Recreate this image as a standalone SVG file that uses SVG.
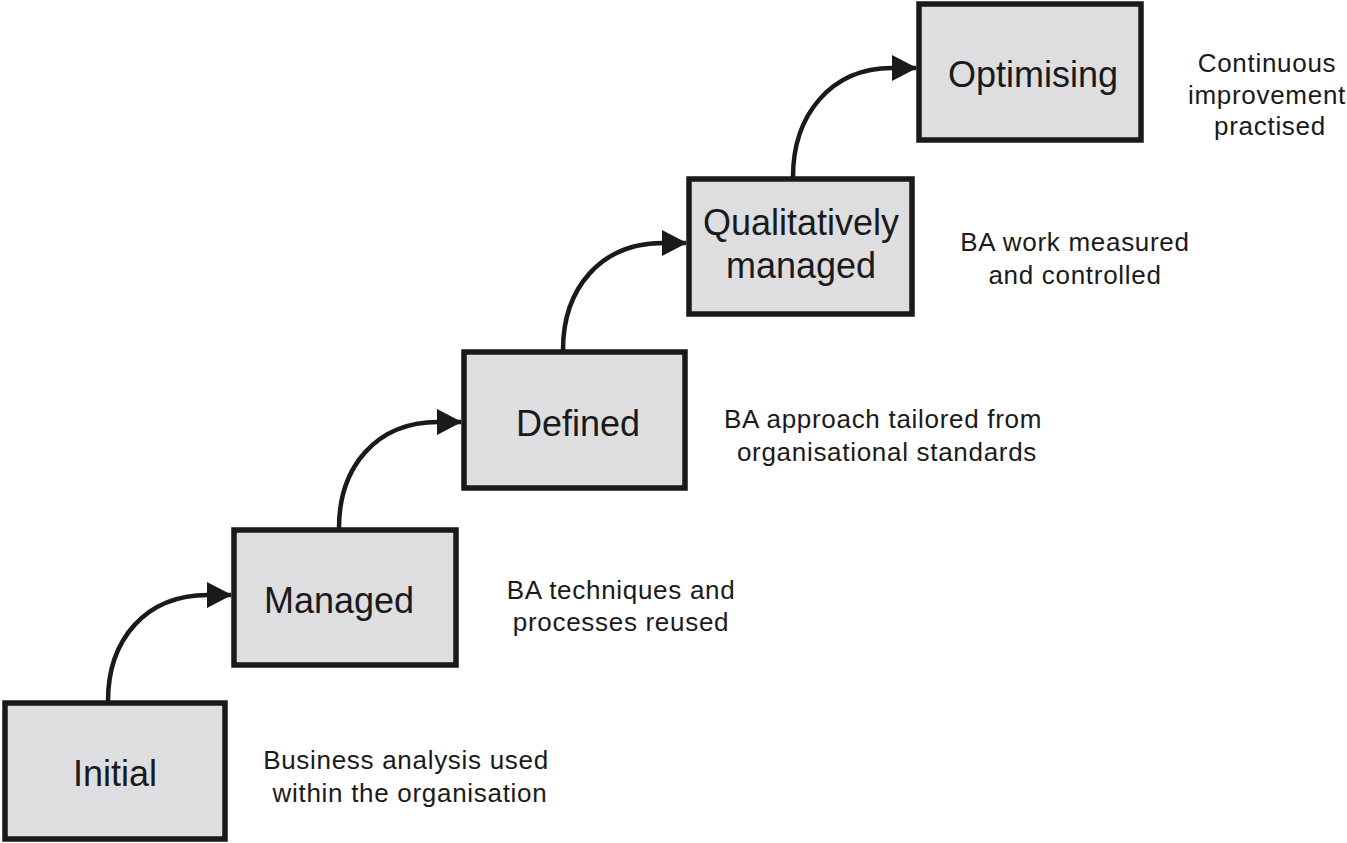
<svg xmlns="http://www.w3.org/2000/svg" width="1347" height="843" viewBox="0 0 1347 843">
<style>
.box{fill:#dedee0;stroke:#1a1a1a;stroke-width:5.5}
.lbl{font-family:"Liberation Sans",Arial,sans-serif;font-size:36px;fill:#1a1a1a;text-anchor:middle}
.note{font-family:"Liberation Sans",Arial,sans-serif;font-size:26px;letter-spacing:0.7px;fill:#1a1a1a;text-anchor:middle}
.conn{fill:none;stroke:#1a1a1a;stroke-width:4.5}
</style>
<defs>
<marker id="ah" markerUnits="userSpaceOnUse" markerWidth="26" markerHeight="28" refX="24" refY="13" orient="auto">
<path d="M0,0 L25,13 L0,26 Z" fill="#1a1a1a"/>
</marker>
</defs>
<rect width="1347" height="843" fill="#ffffff"/>
<g id="connectors">
<path class="conn" marker-end="url(#ah)" d="M108,701 C108,640 145,595 208,595 L231,595"/>
<path class="conn" marker-end="url(#ah)" d="M339,528 C339,467 376,422 438,422 L461,422"/>
<path class="conn" marker-end="url(#ah)" d="M563,350 C563,289 600,243 663,243 L686,243"/>
<path class="conn" marker-end="url(#ah)" d="M793,177 C793,116 830,68 892,68 L916,68"/>
</g>
<g id="node-initial">
<rect class="box" x="5" y="703" width="220" height="136"/>
<text class="lbl" x="115" y="786">Initial</text>
</g>
<g id="node-managed">
<rect class="box" x="234" y="530" width="222" height="135"/>
<text class="lbl" x="339" y="613">Managed</text>
</g>
<g id="node-defined">
<rect class="box" x="464" y="352" width="221" height="136"/>
<text class="lbl" x="578" y="436">Defined</text>
</g>
<g id="node-qualitatively">
<rect class="box" x="689" y="179" width="223" height="135"/>
<text class="lbl" x="801" y="235">Qualitatively</text>
<text class="lbl" x="801" y="278">managed</text>
</g>
<g id="node-optimising">
<rect class="box" x="919" y="4" width="222" height="136"/>
<text class="lbl" x="1033" y="87">Optimising</text>
</g>
<g id="notes">
<text class="note" x="406" y="769">Business analysis used</text>
<text class="note" x="410" y="802">within the organisation</text>
<text class="note" x="621" y="599">BA techniques and</text>
<text class="note" x="621" y="631">processes reused</text>
<text class="note" x="883" y="428">BA approach tailored from</text>
<text class="note" x="887" y="461">organisational standards</text>
<text class="note" x="1075" y="251">BA work measured</text>
<text class="note" x="1075" y="284">and controlled</text>
<text class="note" x="1267" y="72">Continuous</text>
<text class="note" x="1267" y="104">improvement</text>
<text class="note" x="1270" y="135">practised</text>
</g>
</svg>
